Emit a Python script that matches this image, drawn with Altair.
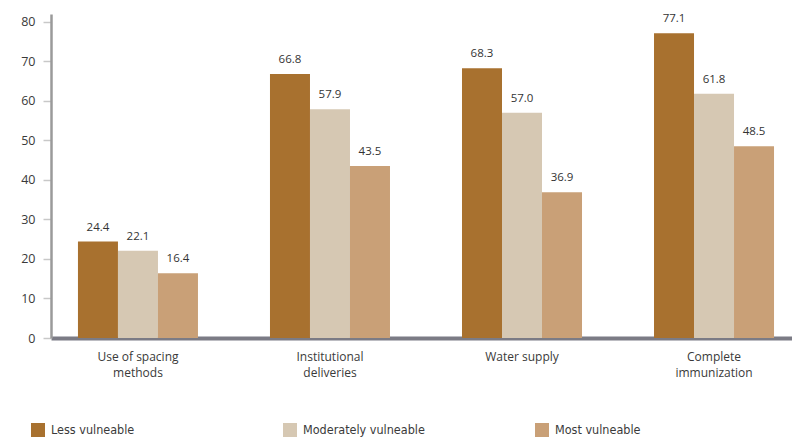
import altair as alt
import pandas as pd

# Indicator categories (two-line labels split on "|")
categories = ["Use of spacing|methods", "Institutional|deliveries", "Water supply", "Complete|immunization"]
groups = ["Less vulneable", "Moderately vulneable", "Most vulneable"]
less_vals = [24.4, 66.8, 68.3, 77.1]
moderate_vals = [22.1, 57.9, 57.0, 61.8]
most_vals = [16.4, 43.5, 36.9, 48.5]
colors = ["#a8712f", "#d6c8b3", "#c9a077"]
y_ticks = [0, 10, 20, 30, 40, 50, 60, 70, 80]

rows = []
for grp, vals in zip(groups, [less_vals, moderate_vals, most_vals]):
    for cat, v in zip(categories, vals):
        rows.append({"category": cat, "group": grp, "value": v, "label": f"{v:.1f}"})
df = pd.DataFrame(rows)

FONT = "Open Sans"
NARROW = "'Liberation Sans Narrow', 'DejaVu Sans Condensed', Roboto, sans-serif"

x_enc = alt.X(
    "category:N",
    sort=categories,
    title=None,
    scale=alt.Scale(paddingInner=0.375, paddingOuter=0.117, align=0.6),
    axis=alt.Axis(
        labelExpr="split(datum.label, '|')",
        labelAngle=0,
        labelFont=FONT,
        labelFontSize=12,
        labelColor="#3a3a3a",
        labelLineHeight=16,
        labelPadding=13,
        ticks=False,
        domainColor="#7b7b85",
        domainWidth=4,
    ),
)
xoff_enc = alt.XOffset("group:N", sort=groups, scale=alt.Scale(paddingInner=0, paddingOuter=0))
y_enc = alt.Y(
    "value:Q",
    title=None,
    scale=alt.Scale(domain=[0, 82], nice=False),
    axis=alt.Axis(
        values=y_ticks,
        grid=False,
        labelFont=FONT,
        labelFontSize=12.5,
        labelColor="#3a3a3a",
        labelPadding=8,
        tickColor="#c8c8c8",
        tickSize=8,
        tickWidth=1.5,
        domainColor="#9a9a9a",
        domainWidth=2.5,
    ),
)

bars = alt.Chart(df).mark_bar().encode(
    x=x_enc,
    xOffset=xoff_enc,
    y=y_enc,
    color=alt.Color(
        "group:N",
        sort=groups,
        scale=alt.Scale(domain=groups, range=colors),
        legend=alt.Legend(
            title=None,
            orient="none",
            legendX=-20,
            legendY=409,
            direction="horizontal",
            columns=3,
            gridAlign="all",
            columnPadding=110,
            symbolType="square",
            symbolSize=196,
            symbolStrokeWidth=0,
            symbolOpacity=1,
            labelFont=NARROW,
            labelFontSize=12.5,
            labelColor="#3a3a3a",
            labelOffset=6,
        ),
    ),
)

labels = alt.Chart(df).mark_text(
    dy=-9, baseline="bottom", font=FONT, fontSize=11.5, color="#333333"
).encode(
    x=alt.X("category:N", sort=categories),
    xOffset=alt.XOffset("group:N", sort=groups),
    y="value:Q",
    text="label:N",
)

chart = (
    alt.layer(bars, labels)
    .properties(
        width=741,
        height=324,
        padding={"left": 51, "top": 14, "right": 0, "bottom": 99},
        autosize=alt.AutoSizeParams(type="none"),
        background="white",
    )
    .configure_view(stroke=None)
)

chart.save("out.html", embed_options={"renderer": "svg", "actions": False})
